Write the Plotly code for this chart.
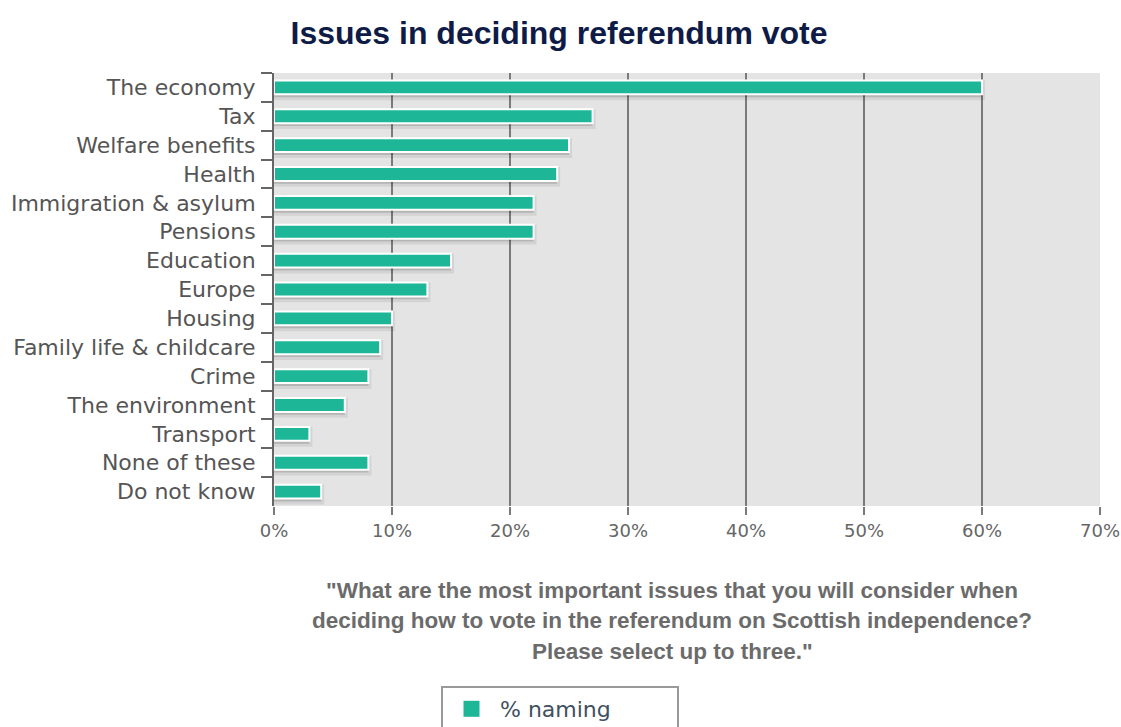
import plotly.graph_objects as go

categories = ["The economy", "Tax", "Welfare benefits", "Health", "Immigration & asylum",
              "Pensions", "Education", "Europe", "Housing", "Family life & childcare",
              "Crime", "The environment", "Transport", "None of these", "Do not know"]
values = [60, 27, 25, 24, 22, 22, 15, 13, 10, 9, 8, 6, 3, 8, 4]
series_name = "% naming"

W, H = 1121, 727
# target plot area in page pixels
PL, PR, PT, PB = 274, 1100, 73, 506
L, T, R, B = PL, PT, W - PR, H - PB
plot_w = PR - PL
plot_h = PB - PT

def px_x(px):
    return (px - PL) / plot_w

def px_y(py):
    return (PB - py) / plot_h

bar_w = 0.48
fig = go.Figure()
# shadow
fig.add_trace(go.Bar(
    y=categories, x=values, orientation="h", width=bar_w, offset=-bar_w / 2 + 0.1,
    marker=dict(color="rgba(0,0,0,0.14)", line=dict(color="rgba(0,0,0,0.07)", width=6)),
    showlegend=False, hoverinfo="skip"))
fig.add_trace(go.Bar(
    y=categories, x=values, orientation="h", width=bar_w, offset=-bar_w / 2,
    name=series_name, showlegend=False,
    marker=dict(color="#1db798", line=dict(color="white", width=2))))
# legend entry
fig.add_trace(go.Scatter(
    x=[None], y=[None], mode="markers", name=series_name,
    marker=dict(symbol="square", size=22, color="#1db798")))

fig.update_layout(
    width=W, height=H,
    margin=dict(l=L, r=R, t=T, b=B, pad=0, autoexpand=False),
    paper_bgcolor="white", plot_bgcolor="#e4e4e4",
    barmode="overlay",
    title=dict(text="<b>Issues in deciding referendum vote</b>", x=559 / W, xanchor="center",
               y=1 - 33 / H, yanchor="middle",
               font=dict(family="Liberation Sans, Arial", size=32, color="#0f1b47")),
    xaxis=dict(range=[0, 70], dtick=10, ticksuffix="%", showgrid=True, gridcolor="#7a7a7a",
               gridwidth=2, zeroline=False, showline=False, ticks="outside", ticklen=8,
               tickwidth=2, tickcolor="#7a7a7a", ticklabeloverflow="allow",
               tickfont=dict(family="DejaVu Sans", size=18, color="#666666")),
    yaxis=dict(autorange="reversed", categoryorder="array", categoryarray=categories,
               showline=True, linecolor="#666666", linewidth=2, ticks="outside",
               tickson="boundaries", ticklen=11, tickwidth=2, tickcolor="#666666",
               ticklabelstandoff=12,
               showgrid=False, zeroline=False,
               tickfont=dict(family="DejaVu Sans", size=22, color="#555555")),
    legend=dict(x=px_x(560), xanchor="center", y=px_y(686), yanchor="top",
                orientation="h", bgcolor="white", bordercolor="#999999", borderwidth=2,
                entrywidth=172, itemwidth=47,
                font=dict(family="DejaVu Sans", size=22, color="#3f5060")),
    showlegend=True,
)

lines = ['"What are the most important issues that you will consider when',
         'deciding how to vote in the referendum on Scottish independence?',
         'Please select up to three."']
for txt, yc in zip(lines, [590, 620, 651]):
    fig.add_annotation(text="<b>" + txt + "</b>", xref="paper", yref="paper",
                       x=px_x(672), y=px_y(yc), xanchor="center", yanchor="middle",
                       showarrow=False,
                       font=dict(family="Liberation Sans, Arial", size=22.5, color="#6b6b6b"))

fig.write_html("out.html", config={"displayModeBar": False},
               post_script="document.body.style.margin='0';document.body.style.overflow='hidden';")
